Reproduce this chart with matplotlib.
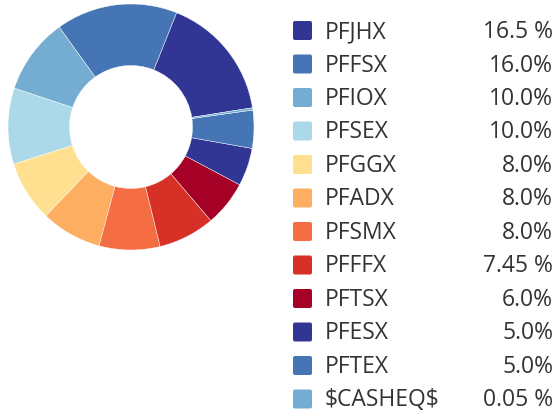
import matplotlib
matplotlib.use('Agg')
import matplotlib.pyplot as plt
from matplotlib.patches import FancyBboxPatch
import numpy as np

plt.rcParams['font.family'] = ['Open Sans', 'DejaVu Sans']

# fund allocation
funds = ['PFJHX', 'PFFSX', 'PFIOX', 'PFSEX', 'PFGGX', 'PFADX',
         'PFSMX', 'PFFFX', 'PFTSX', 'PFESX', 'PFTEX', r'\$CASHEQ\$']
weights = [16.5, 16.0, 10.0, 10.0, 8.0, 8.0, 8.0, 7.45, 6.0, 5.0, 5.0, 0.05]
weight_labels = ['16.5 %', '16.0%', '10.0%', '10.0%', '8.0%', '8.0%',
                 '8.0%', '7.45 %', '6.0%', '5.0%', '5.0%', '0.05 %']
colors = ['#313695', '#4575b4', '#74add1', '#abd9e9', '#fee090', '#fdae61',
          '#f46d43', '#d73027', '#a50026', '#313695', '#4575b4', '#74add1']

W, H = 559, 414
fig = plt.figure(figsize=(W / 100, H / 100), dpi=100)
fig.patch.set_facecolor('white')

# donut, pixel geometry
cx, cy, r = 131, 128, 123
ax = fig.add_axes([(cx - r) / W, (H - cy - r) / H, 2 * r / W, 2 * r / H])
shown = np.maximum(np.array(weights), 0.3)  # keep tiny slice visible
ax.pie(shown, colors=colors, startangle=9, counterclock=True, radius=1.0,
       wedgeprops=dict(width=0.5, edgecolor='white', linewidth=0.3))
ax.set_xlim(-1, 1); ax.set_ylim(-1, 1)
ax.set_aspect('equal')
ax.axis('off')

# legend drawn in pixel coords
lg = fig.add_axes([0, 0, 1, 1])
lg.set_xlim(0, W); lg.set_ylim(H, 0)
lg.axis('off')
y0, dy = 31, 33.5
for i, (name, lab, c) in enumerate(zip(funds, weight_labels, colors)):
    y = y0 + i * dy
    lg.add_patch(FancyBboxPatch((293, y - 9), 19, 19,
                                boxstyle='round,pad=0,rounding_size=2',
                                fc=c, ec='none'))
    lg.text(325, y + 1, name, fontsize=16.5, color='#333333', va='center', ha='left')
    lg.text(553, y + 1, lab, fontsize=16.5, color='#333333', va='center', ha='right')

fig.savefig('out.png', dpi=100, facecolor='white')
